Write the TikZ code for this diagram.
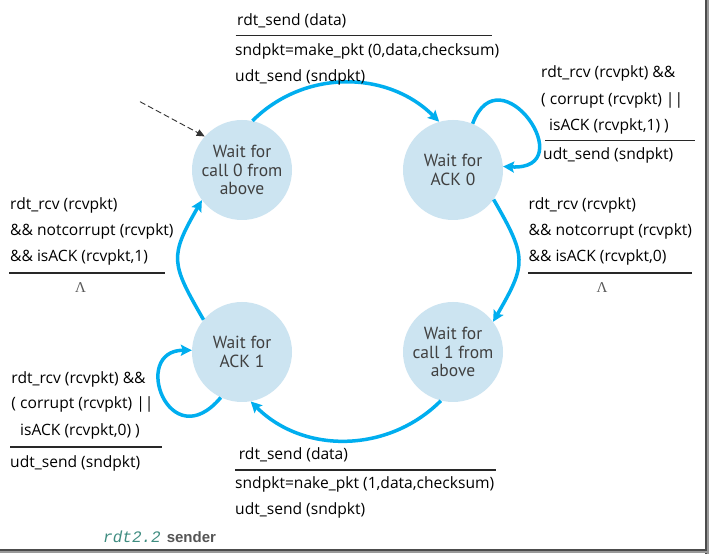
\documentclass[tikz,border=0pt]{standalone}
\usepackage{fontspec}
\setmainfont{Open Sans}
\newfontfamily\circfont{PT Sans}
\newfontfamily\capmono{Liberation Mono}
\newfontfamily\capsans{Liberation Sans}
\newfontfamily\lamfont{Liberation Serif}
\usetikzlibrary{arrows.meta}
\definecolor{stateblue}{RGB}{204,228,241}
\definecolor{arrowblue}{RGB}{0,174,239}
\definecolor{circtext}{RGB}{64,64,64}
\definecolor{capteal}{RGB}{62,140,128}
\definecolor{capgray}{RGB}{85,85,85}
\definecolor{rulegray}{RGB}{40,40,40}
\tikzset{
  state/.style={circle, minimum size=100pt, inner sep=0pt, fill=stateblue, align=center,
    text=circtext, font=\circfont\fontsize{17.5}{18.5}\selectfont},
  trans/.style={draw=arrowblue, line width=3.5pt, -{Stealth[length=11pt,width=11pt,inset=2pt]}},
  initarrow/.style={draw=black!80, line width=0.9pt, dash pattern=on 6pt off 3pt, -{Triangle[length=8pt,width=7pt]}},
  lbl/.style={anchor=west, inner sep=0pt, font=\fontsize{15.6}{17}\selectfont, text=black},
  lam/.style={inner sep=0pt, text=black!65, font=\lamfont\fontsize{15}{16}\selectfont},
  barline/.style={draw=rulegray, line width=1.2pt}
}
\begin{document}
\begin{tikzpicture}[x=1pt,y=1pt]
\useasboundingbox (0,0) rectangle (710,554);
\fill[white] (0,0) rectangle (710,554);
% screenshot frame
\fill[black!70] (705,0) rectangle (707,554);
\fill[black!40] (707,0) rectangle (709,554);
\fill[black!70] (0,2.5) rectangle (707,4.5);
\fill[black!40] (0,1) rectangle (709,2.5);

% states
\node[state] (A) at (242,384) {Wait for\\call 0 from\\above};
\node[state] (B) at (453,384) {Wait for\\ACK 0};
\node[state] (C) at (242,202) {Wait for\\ACK 1};
\node[state] (D) at (453,202) {Wait for\\call 1 from\\above};

% transitions
\draw[trans] (A.78) to[out=45,in=135] (B.106);
\draw[trans] (B.-36) to[out=-60,in=60,looseness=1.4] (D.37);
\draw[trans] (D.-104) to[out=-135,in=-45] (C.-80);
\draw[trans] (C.140) to[out=120,in=-120,looseness=1.4] (A.-143);
\draw[trans] (B.67) .. controls +(70:78) and +(-3:80) .. (B.4);
\draw[trans] (C.-115) .. controls +(-130:80) and +(180:62) .. (C.178);

% initial arrow
\coordinate (init) at (140,452.3);
\draw[initarrow] (init) -- (A.138);

% top label
\node[lbl] (t1) at (237,533.5) {rdt\_send (data)};
\coordinate (t1a) at (235.5,518.3); \coordinate (t1b) at (492,518.3);
\draw[barline] (t1a) -- (t1b);
\node[lbl] (t2) at (235,502.5) {sndpkt=make\_pkt (0,data,checksum)};
\node[lbl] (t3) at (235,476.5) {udt\_send (sndpkt)};

% top-right label
\node[lbl] (r1) at (541,480.1) {rdt\_rcv (rcvpkt) \&\&};
\node[lbl] (r2) at (541,454) {( corrupt (rcvpkt) ||};
\node[lbl] (r3) at (549,428) {isACK (rcvpkt,1) )};
\coordinate (r3a) at (545,413.7); \coordinate (r3b) at (695,413.7);
\draw[barline] (r3a) -- (r3b);
\node[lbl] (r4) at (543,398.5) {udt\_send (sndpkt)};

% right-middle label
\node[lbl] (m1) at (528.5,349) {rdt\_rcv (rcvpkt)};
\node[lbl] (m2) at (528.5,322.5) {\&\& notcorrupt (rcvpkt)};
\node[lbl] (m3) at (528.5,297) {\&\& isACK (rcvpkt,0)};
\coordinate (m3a) at (528,281); \coordinate (m3b) at (691.5,281);
\draw[barline] (m3a) -- (m3b);
\node[lam] (m4) at (602,266) {Λ};

% left-middle label
\node[lbl] (l1) at (10,349) {rdt\_rcv (rcvpkt)};
\node[lbl] (l2) at (10,322.5) {\&\& notcorrupt (rcvpkt)};
\node[lbl] (l3) at (10,297) {\&\& isACK (rcvpkt,1)};
\coordinate (l3a) at (9,281); \coordinate (l3b) at (165,281);
\draw[barline] (l3a) -- (l3b);
\node[lam] (l4) at (80.6,266) {Λ};

% bottom-left label
\node[lbl] (b1) at (11.3,175) {rdt\_rcv (rcvpkt) \&\&};
\node[lbl] (b2) at (11.3,149.4) {( corrupt (rcvpkt) ||};
\node[lbl] (b3) at (20,123) {isACK (rcvpkt,0) )};
\coordinate (b3a) at (10,107); \coordinate (b3b) at (162,107);
\draw[barline] (b3a) -- (b3b);
\node[lbl] (b4) at (10,91) {udt\_send (sndpkt)};

% bottom label
\node[lbl] (s1) at (238.7,99) {rdt\_send (data)};
\coordinate (s1a) at (235,84); \coordinate (s1b) at (496,84);
\draw[barline] (s1a) -- (s1b);
\node[lbl] (s2) at (235,70) {sndpkt=nake\_pkt (1,data,checksum)};
\node[lbl] (s3) at (235,44) {udt\_send (sndpkt)};

% caption
\node[anchor=base west, inner sep=0pt] (cap) at (103,11) {{\color{capteal}\capmono\itshape\fontsize{16}{17}\selectfont rdt2.2}\hspace{6pt}{\color{capgray}\capsans\bfseries\fontsize{15}{16}\selectfont sender}};
\end{tikzpicture}
\end{document}
